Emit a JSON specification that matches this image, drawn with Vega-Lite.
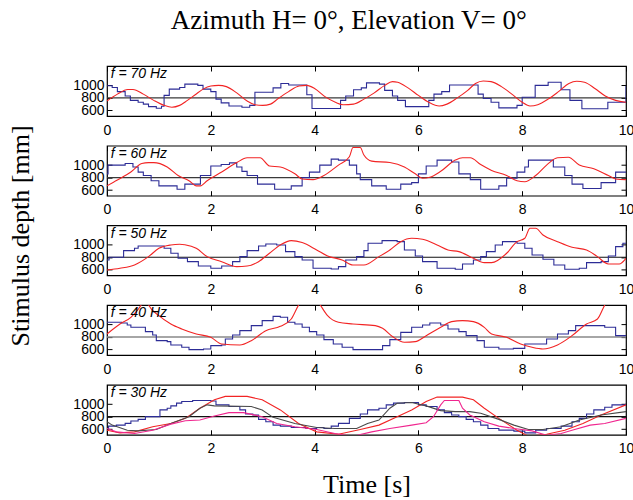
{
"$schema": "https://vega.github.io/schema/vega-lite/v6.json",
"padding": {"left": 7, "top": 6, "right": 0, "bottom": 4},
"title": {"text": "Azimuth H= 0°, Elevation V= 0°", "font": "Liberation Serif", "fontSize": 27, "fontWeight": "normal", "color": "#000", "anchor": "middle", "offset": 30, "dx": 28},
"datasets": {
"d": [
{"p":70,"s":"b","t":0,"v":995},{"p":70,"s":"b","t":0.1,"v":965},{"p":70,"s":"b","t":0.2,"v":900},{"p":70,"s":"b","t":0.35,"v":830},{"p":70,"s":"b","t":0.45,"v":760},{"p":70,"s":"b","t":0.6,"v":730},{"p":70,"s":"b","t":0.7,"v":700},{"p":70,"s":"b","t":0.8,"v":660},{"p":70,"s":"b","t":0.95,"v":635},{"p":70,"s":"b","t":1.05,"v":665},{"p":70,"s":"b","t":1.1,"v":840},{"p":70,"s":"b","t":1.2,"v":940},{"p":70,"s":"b","t":1.4,"v":965},{"p":70,"s":"b","t":1.5,"v":1020},{"p":70,"s":"b","t":1.75,"v":1000},{"p":70,"s":"b","t":1.85,"v":940},{"p":70,"s":"b","t":2.0,"v":900},{"p":70,"s":"b","t":2.1,"v":780},{"p":70,"s":"b","t":2.2,"v":720},{"p":70,"s":"b","t":2.35,"v":670},{"p":70,"s":"b","t":2.6,"v":650},{"p":70,"s":"b","t":2.75,"v":680},{"p":70,"s":"b","t":2.85,"v":890},{"p":70,"s":"b","t":3.1,"v":890},{"p":70,"s":"b","t":3.2,"v":960},{"p":70,"s":"b","t":3.35,"v":1030},{"p":70,"s":"b","t":3.5,"v":1005},{"p":70,"s":"b","t":3.75,"v":1005},{"p":70,"s":"b","t":3.85,"v":850},{"p":70,"s":"b","t":3.95,"v":630},{"p":70,"s":"b","t":4.4,"v":630},{"p":70,"s":"b","t":4.5,"v":760},{"p":70,"s":"b","t":4.6,"v":830},{"p":70,"s":"b","t":4.75,"v":930},{"p":70,"s":"b","t":4.9,"v":960},{"p":70,"s":"b","t":5.0,"v":1040},{"p":70,"s":"b","t":5.25,"v":1020},{"p":70,"s":"b","t":5.35,"v":920},{"p":70,"s":"b","t":5.5,"v":830},{"p":70,"s":"b","t":5.6,"v":760},{"p":70,"s":"b","t":5.75,"v":660},{"p":70,"s":"b","t":6.1,"v":660},{"p":70,"s":"b","t":6.2,"v":760},{"p":70,"s":"b","t":6.3,"v":860},{"p":70,"s":"b","t":6.45,"v":900},{"p":70,"s":"b","t":6.6,"v":1005},{"p":70,"s":"b","t":7.1,"v":1005},{"p":70,"s":"b","t":7.15,"v":860},{"p":70,"s":"b","t":7.25,"v":790},{"p":70,"s":"b","t":7.4,"v":730},{"p":70,"s":"b","t":7.55,"v":640},{"p":70,"s":"b","t":7.8,"v":640},{"p":70,"s":"b","t":7.9,"v":680},{"p":70,"s":"b","t":8.0,"v":810},{"p":70,"s":"b","t":8.25,"v":1000},{"p":70,"s":"b","t":8.5,"v":1050},{"p":70,"s":"b","t":8.75,"v":930},{"p":70,"s":"b","t":8.92,"v":760},{"p":70,"s":"b","t":9.15,"v":625},{"p":70,"s":"b","t":9.62,"v":625},{"p":70,"s":"b","t":9.65,"v":730},{"p":70,"s":"b","t":9.95,"v":730},{"p":70,"s":"b","t":10,"v":995},
{"p":70,"s":"r","t":0,"v":750},{"p":70,"s":"r","t":0.2,"v":860},{"p":70,"s":"r","t":0.4,"v":935},{"p":70,"s":"r","t":0.5,"v":935},{"p":70,"s":"r","t":0.7,"v":860},{"p":70,"s":"r","t":0.9,"v":760},{"p":70,"s":"r","t":1.1,"v":680},{"p":70,"s":"r","t":1.25,"v":650},{"p":70,"s":"r","t":1.4,"v":680},{"p":70,"s":"r","t":1.55,"v":760},{"p":70,"s":"r","t":1.7,"v":850},{"p":70,"s":"r","t":1.85,"v":940},{"p":70,"s":"r","t":2.0,"v":990},{"p":70,"s":"r","t":2.15,"v":1000},{"p":70,"s":"r","t":2.3,"v":980},{"p":70,"s":"r","t":2.5,"v":880},{"p":70,"s":"r","t":2.7,"v":750},{"p":70,"s":"r","t":2.85,"v":690},{"p":70,"s":"r","t":3.0,"v":680},{"p":70,"s":"r","t":3.15,"v":700},{"p":70,"s":"r","t":3.3,"v":790},{"p":70,"s":"r","t":3.5,"v":900},{"p":70,"s":"r","t":3.7,"v":990},{"p":70,"s":"r","t":3.85,"v":1000},{"p":70,"s":"r","t":4.0,"v":950},{"p":70,"s":"r","t":4.2,"v":820},{"p":70,"s":"r","t":4.4,"v":730},{"p":70,"s":"r","t":4.55,"v":690},{"p":70,"s":"r","t":4.75,"v":700},{"p":70,"s":"r","t":4.95,"v":780},{"p":70,"s":"r","t":5.15,"v":880},{"p":70,"s":"r","t":5.35,"v":1000},{"p":70,"s":"r","t":5.5,"v":1060},{"p":70,"s":"r","t":5.6,"v":1050},{"p":70,"s":"r","t":5.8,"v":960},{"p":70,"s":"r","t":6.0,"v":840},{"p":70,"s":"r","t":6.2,"v":730},{"p":70,"s":"r","t":6.4,"v":670},{"p":70,"s":"r","t":6.55,"v":700},{"p":70,"s":"r","t":6.75,"v":800},{"p":70,"s":"r","t":6.95,"v":920},{"p":70,"s":"r","t":7.1,"v":1030},{"p":70,"s":"r","t":7.25,"v":1070},{"p":70,"s":"r","t":7.4,"v":1060},{"p":70,"s":"r","t":7.6,"v":980},{"p":70,"s":"r","t":7.8,"v":860},{"p":70,"s":"r","t":8.0,"v":730},{"p":70,"s":"r","t":8.15,"v":670},{"p":70,"s":"r","t":8.3,"v":690},{"p":70,"s":"r","t":8.5,"v":780},{"p":70,"s":"r","t":8.7,"v":900},{"p":70,"s":"r","t":8.9,"v":1030},{"p":70,"s":"r","t":9.05,"v":1065},{"p":70,"s":"r","t":9.2,"v":1050},{"p":70,"s":"r","t":9.4,"v":950},{"p":70,"s":"r","t":9.6,"v":830},{"p":70,"s":"r","t":9.8,"v":760},{"p":70,"s":"r","t":10,"v":730},
{"p":60,"s":"b","t":0,"v":860},{"p":60,"s":"b","t":0.02,"v":1000},{"p":60,"s":"b","t":0.35,"v":1025},{"p":60,"s":"b","t":0.5,"v":970},{"p":60,"s":"b","t":0.6,"v":888},{"p":60,"s":"b","t":0.7,"v":833},{"p":60,"s":"b","t":0.85,"v":750},{"p":60,"s":"b","t":1.0,"v":668},{"p":60,"s":"b","t":1.35,"v":614},{"p":60,"s":"b","t":1.5,"v":696},{"p":60,"s":"b","t":1.8,"v":833},{"p":60,"s":"b","t":2.0,"v":986},{"p":60,"s":"b","t":2.2,"v":1010},{"p":60,"s":"b","t":2.36,"v":1036},{"p":60,"s":"b","t":2.5,"v":970},{"p":60,"s":"b","t":2.6,"v":900},{"p":60,"s":"b","t":2.7,"v":833},{"p":60,"s":"b","t":2.9,"v":696},{"p":60,"s":"b","t":3.23,"v":614},{"p":60,"s":"b","t":3.55,"v":668},{"p":60,"s":"b","t":3.76,"v":800},{"p":60,"s":"b","t":3.9,"v":888},{"p":60,"s":"b","t":4.1,"v":1000},{"p":60,"s":"b","t":4.32,"v":1096},{"p":60,"s":"b","t":4.46,"v":1080},{"p":60,"s":"b","t":4.67,"v":1000},{"p":60,"s":"b","t":4.81,"v":860},{"p":60,"s":"b","t":4.88,"v":767},{"p":60,"s":"b","t":5.1,"v":668},{"p":60,"s":"b","t":5.38,"v":614},{"p":60,"s":"b","t":5.66,"v":696},{"p":60,"s":"b","t":5.87,"v":720},{"p":60,"s":"b","t":6.0,"v":860},{"p":60,"s":"b","t":6.15,"v":986},{"p":60,"s":"b","t":6.36,"v":1080},{"p":60,"s":"b","t":6.64,"v":1050},{"p":60,"s":"b","t":6.78,"v":860},{"p":60,"s":"b","t":7.0,"v":767},{"p":60,"s":"b","t":7.2,"v":614},{"p":60,"s":"b","t":7.55,"v":668},{"p":60,"s":"b","t":7.7,"v":790},{"p":60,"s":"b","t":7.9,"v":888},{"p":60,"s":"b","t":8.05,"v":970},{"p":60,"s":"b","t":8.12,"v":1080},{"p":60,"s":"b","t":8.54,"v":1080},{"p":60,"s":"b","t":8.6,"v":970},{"p":60,"s":"b","t":8.82,"v":833},{"p":60,"s":"b","t":8.96,"v":696},{"p":60,"s":"b","t":9.17,"v":625},{"p":60,"s":"b","t":9.45,"v":625},{"p":60,"s":"b","t":9.52,"v":720},{"p":60,"s":"b","t":9.73,"v":720},{"p":60,"s":"b","t":9.8,"v":888},{"p":60,"s":"b","t":10,"v":888},
{"p":60,"s":"r","t":0,"v":668},{"p":60,"s":"r","t":0.2,"v":760},{"p":60,"s":"r","t":0.46,"v":888},{"p":60,"s":"r","t":0.67,"v":1025},{"p":60,"s":"r","t":0.8,"v":1040},{"p":60,"s":"r","t":0.9,"v":1040},{"p":60,"s":"r","t":1.16,"v":970},{"p":60,"s":"r","t":1.37,"v":833},{"p":60,"s":"r","t":1.58,"v":750},{"p":60,"s":"r","t":1.72,"v":668},{"p":60,"s":"r","t":1.8,"v":668},{"p":60,"s":"r","t":1.93,"v":750},{"p":60,"s":"r","t":2.21,"v":888},{"p":60,"s":"r","t":2.5,"v":1040},{"p":60,"s":"r","t":2.7,"v":1118},{"p":60,"s":"r","t":2.95,"v":1118},{"p":60,"s":"r","t":3.13,"v":986},{"p":60,"s":"r","t":3.34,"v":970},{"p":60,"s":"r","t":3.62,"v":860},{"p":60,"s":"r","t":3.76,"v":778},{"p":60,"s":"r","t":3.97,"v":767},{"p":60,"s":"r","t":4.18,"v":833},{"p":60,"s":"r","t":4.46,"v":1000},{"p":60,"s":"r","t":4.67,"v":1134},{"p":60,"s":"r","t":4.74,"v":1282},{"p":60,"s":"r","t":4.88,"v":1282},{"p":60,"s":"r","t":4.95,"v":1160},{"p":60,"s":"r","t":5.1,"v":1063},{"p":60,"s":"r","t":5.45,"v":1040},{"p":60,"s":"r","t":5.73,"v":970},{"p":60,"s":"r","t":5.94,"v":860},{"p":60,"s":"r","t":6.08,"v":790},{"p":60,"s":"r","t":6.22,"v":805},{"p":60,"s":"r","t":6.43,"v":900},{"p":60,"s":"r","t":6.71,"v":1080},{"p":60,"s":"r","t":6.85,"v":1118},{"p":60,"s":"r","t":7.0,"v":1118},{"p":60,"s":"r","t":7.2,"v":1008},{"p":60,"s":"r","t":7.41,"v":915},{"p":60,"s":"r","t":7.7,"v":833},{"p":60,"s":"r","t":7.9,"v":750},{"p":60,"s":"r","t":8.05,"v":734},{"p":60,"s":"r","t":8.26,"v":833},{"p":60,"s":"r","t":8.47,"v":1000},{"p":60,"s":"r","t":8.68,"v":1118},{"p":60,"s":"r","t":8.89,"v":1125},{"p":60,"s":"r","t":9.1,"v":1000},{"p":60,"s":"r","t":9.38,"v":942},{"p":60,"s":"r","t":9.66,"v":833},{"p":60,"s":"r","t":9.8,"v":778},{"p":60,"s":"r","t":10,"v":767},
{"p":50,"s":"b","t":0,"v":757},{"p":50,"s":"b","t":0.04,"v":800},{"p":50,"s":"b","t":0.32,"v":907},{"p":50,"s":"b","t":0.53,"v":945},{"p":50,"s":"b","t":0.6,"v":981},{"p":50,"s":"b","t":1.0,"v":981},{"p":50,"s":"b","t":1.1,"v":944},{"p":50,"s":"b","t":1.23,"v":864},{"p":50,"s":"b","t":1.37,"v":784},{"p":50,"s":"b","t":1.55,"v":730},{"p":50,"s":"b","t":1.76,"v":661},{"p":50,"s":"b","t":2.0,"v":624},{"p":50,"s":"b","t":2.21,"v":661},{"p":50,"s":"b","t":2.42,"v":730},{"p":50,"s":"b","t":2.56,"v":810},{"p":50,"s":"b","t":2.7,"v":907},{"p":50,"s":"b","t":2.92,"v":981},{"p":50,"s":"b","t":3.06,"v":1013},{"p":50,"s":"b","t":3.27,"v":997},{"p":50,"s":"b","t":3.44,"v":890},{"p":50,"s":"b","t":3.62,"v":810},{"p":50,"s":"b","t":3.76,"v":757},{"p":50,"s":"b","t":3.97,"v":624},{"p":50,"s":"b","t":4.32,"v":613},{"p":50,"s":"b","t":4.46,"v":650},{"p":50,"s":"b","t":4.6,"v":757},{"p":50,"s":"b","t":4.81,"v":810},{"p":50,"s":"b","t":4.95,"v":907},{"p":50,"s":"b","t":5.03,"v":1024},{"p":50,"s":"b","t":5.3,"v":1067},{"p":50,"s":"b","t":5.59,"v":1050},{"p":50,"s":"b","t":5.73,"v":917},{"p":50,"s":"b","t":5.94,"v":820},{"p":50,"s":"b","t":6.08,"v":730},{"p":50,"s":"b","t":6.36,"v":624},{"p":50,"s":"b","t":6.71,"v":608},{"p":50,"s":"b","t":6.85,"v":693},{"p":50,"s":"b","t":7.06,"v":757},{"p":50,"s":"b","t":7.2,"v":810},{"p":50,"s":"b","t":7.31,"v":890},{"p":50,"s":"b","t":7.48,"v":997},{"p":50,"s":"b","t":7.62,"v":1050},{"p":50,"s":"b","t":7.9,"v":1024},{"p":50,"s":"b","t":8.05,"v":944},{"p":50,"s":"b","t":8.19,"v":837},{"p":50,"s":"b","t":8.4,"v":768},{"p":50,"s":"b","t":8.61,"v":677},{"p":50,"s":"b","t":8.82,"v":608},{"p":50,"s":"b","t":9.1,"v":624},{"p":50,"s":"b","t":9.24,"v":714},{"p":50,"s":"b","t":9.52,"v":730},{"p":50,"s":"b","t":9.66,"v":821},{"p":50,"s":"b","t":9.8,"v":970},{"p":50,"s":"b","t":9.94,"v":1024},{"p":50,"s":"b","t":10,"v":1024},
{"p":50,"s":"r","t":0,"v":597},{"p":50,"s":"r","t":0.25,"v":624},{"p":50,"s":"r","t":0.53,"v":677},{"p":50,"s":"r","t":0.8,"v":810},{"p":50,"s":"r","t":1.0,"v":944},{"p":50,"s":"r","t":1.23,"v":997},{"p":50,"s":"r","t":1.4,"v":1008},{"p":50,"s":"r","t":1.5,"v":1000},{"p":50,"s":"r","t":1.72,"v":944},{"p":50,"s":"r","t":1.93,"v":810},{"p":50,"s":"r","t":2.21,"v":730},{"p":50,"s":"r","t":2.5,"v":650},{"p":50,"s":"r","t":2.7,"v":660},{"p":50,"s":"r","t":2.92,"v":730},{"p":50,"s":"r","t":3.13,"v":864},{"p":50,"s":"r","t":3.34,"v":997},{"p":50,"s":"r","t":3.55,"v":1067},{"p":50,"s":"r","t":3.76,"v":1035},{"p":50,"s":"r","t":4.04,"v":917},{"p":50,"s":"r","t":4.25,"v":821},{"p":50,"s":"r","t":4.53,"v":757},{"p":50,"s":"r","t":4.74,"v":677},{"p":50,"s":"r","t":4.95,"v":677},{"p":50,"s":"r","t":5.24,"v":810},{"p":50,"s":"r","t":5.45,"v":917},{"p":50,"s":"r","t":5.66,"v":1050},{"p":50,"s":"r","t":5.87,"v":1104},{"p":50,"s":"r","t":6.08,"v":1088},{"p":50,"s":"r","t":6.36,"v":997},{"p":50,"s":"r","t":6.57,"v":917},{"p":50,"s":"r","t":6.78,"v":890},{"p":50,"s":"r","t":7.06,"v":784},{"p":50,"s":"r","t":7.27,"v":714},{"p":50,"s":"r","t":7.41,"v":714},{"p":50,"s":"r","t":7.7,"v":864},{"p":50,"s":"r","t":7.9,"v":1050},{"p":50,"s":"r","t":8.05,"v":1104},{"p":50,"s":"r","t":8.15,"v":1264},{"p":50,"s":"r","t":8.26,"v":1264},{"p":50,"s":"r","t":8.4,"v":1157},{"p":50,"s":"r","t":8.68,"v":1050},{"p":50,"s":"r","t":8.96,"v":960},{"p":50,"s":"r","t":9.24,"v":917},{"p":50,"s":"r","t":9.45,"v":810},{"p":50,"s":"r","t":9.66,"v":693},{"p":50,"s":"r","t":9.87,"v":693},{"p":50,"s":"r","t":10,"v":784},
{"p":40,"s":"b","t":0,"v":1035},{"p":40,"s":"b","t":0.28,"v":1024},{"p":40,"s":"b","t":0.39,"v":992},{"p":40,"s":"b","t":0.46,"v":955},{"p":40,"s":"b","t":0.74,"v":885},{"p":40,"s":"b","t":0.88,"v":832},{"p":40,"s":"b","t":0.95,"v":741},{"p":40,"s":"b","t":1.16,"v":725},{"p":40,"s":"b","t":1.23,"v":672},{"p":40,"s":"b","t":1.44,"v":635},{"p":40,"s":"b","t":1.58,"v":597},{"p":40,"s":"b","t":1.86,"v":608},{"p":40,"s":"b","t":2.0,"v":661},{"p":40,"s":"b","t":2.21,"v":672},{"p":40,"s":"b","t":2.28,"v":768},{"p":40,"s":"b","t":2.42,"v":832},{"p":40,"s":"b","t":2.56,"v":901},{"p":40,"s":"b","t":2.78,"v":981},{"p":40,"s":"b","t":2.99,"v":1061},{"p":40,"s":"b","t":3.2,"v":1130},{"p":40,"s":"b","t":3.34,"v":1115},{"p":40,"s":"b","t":3.48,"v":1035},{"p":40,"s":"b","t":3.62,"v":1008},{"p":40,"s":"b","t":3.76,"v":955},{"p":40,"s":"b","t":3.9,"v":885},{"p":40,"s":"b","t":4.04,"v":832},{"p":40,"s":"b","t":4.18,"v":757},{"p":40,"s":"b","t":4.36,"v":688},{"p":40,"s":"b","t":4.53,"v":635},{"p":40,"s":"b","t":4.74,"v":597},{"p":40,"s":"b","t":5.17,"v":597},{"p":40,"s":"b","t":5.31,"v":661},{"p":40,"s":"b","t":5.45,"v":757},{"p":40,"s":"b","t":5.66,"v":874},{"p":40,"s":"b","t":5.87,"v":955},{"p":40,"s":"b","t":6.08,"v":992},{"p":40,"s":"b","t":6.22,"v":1024},{"p":40,"s":"b","t":6.43,"v":992},{"p":40,"s":"b","t":6.57,"v":928},{"p":40,"s":"b","t":6.78,"v":885},{"p":40,"s":"b","t":6.92,"v":821},{"p":40,"s":"b","t":7.13,"v":741},{"p":40,"s":"b","t":7.27,"v":635},{"p":40,"s":"b","t":7.55,"v":608},{"p":40,"s":"b","t":7.83,"v":618},{"p":40,"s":"b","t":8.05,"v":688},{"p":40,"s":"b","t":8.47,"v":768},{"p":40,"s":"b","t":8.68,"v":848},{"p":40,"s":"b","t":8.89,"v":901},{"p":40,"s":"b","t":9.03,"v":981},{"p":40,"s":"b","t":9.38,"v":981},{"p":40,"s":"b","t":9.59,"v":955},{"p":40,"s":"b","t":9.8,"v":821},{"p":40,"s":"b","t":10,"v":821},
{"p":40,"s":"r","t":0,"v":848},{"p":40,"s":"r","t":0.25,"v":1008},{"p":40,"s":"r","t":0.46,"v":1115},{"p":40,"s":"r","t":0.67,"v":1328},{"p":40,"s":"r","t":0.74,"v":1450},{"p":40,"s":"r","t":0.8,"v":1315},{"p":40,"s":"r","t":1.0,"v":1141},{"p":40,"s":"r","t":1.23,"v":1008},{"p":40,"s":"r","t":1.44,"v":928},{"p":40,"s":"r","t":1.72,"v":848},{"p":40,"s":"r","t":2.0,"v":795},{"p":40,"s":"r","t":2.21,"v":688},{"p":40,"s":"r","t":2.56,"v":672},{"p":40,"s":"r","t":2.78,"v":741},{"p":40,"s":"r","t":3.06,"v":901},{"p":40,"s":"r","t":3.34,"v":970},{"p":40,"s":"r","t":3.55,"v":1088},{"p":40,"s":"r","t":3.69,"v":1310},{"p":40,"s":"r","t":3.9,"v":1550},{"p":40,"s":"r","t":4.11,"v":1310},{"p":40,"s":"r","t":4.25,"v":1141},{"p":40,"s":"r","t":4.46,"v":1035},{"p":40,"s":"r","t":4.74,"v":1008},{"p":40,"s":"r","t":5.17,"v":981},{"p":40,"s":"r","t":5.31,"v":938},{"p":40,"s":"r","t":5.52,"v":795},{"p":40,"s":"r","t":5.73,"v":715},{"p":40,"s":"r","t":5.94,"v":725},{"p":40,"s":"r","t":6.15,"v":821},{"p":40,"s":"r","t":6.43,"v":954},{"p":40,"s":"r","t":6.64,"v":1045},{"p":40,"s":"r","t":6.85,"v":1061},{"p":40,"s":"r","t":7.06,"v":1045},{"p":40,"s":"r","t":7.27,"v":954},{"p":40,"s":"r","t":7.41,"v":848},{"p":40,"s":"r","t":7.7,"v":795},{"p":40,"s":"r","t":7.97,"v":688},{"p":40,"s":"r","t":8.19,"v":635},{"p":40,"s":"r","t":8.4,"v":608},{"p":40,"s":"r","t":8.68,"v":672},{"p":40,"s":"r","t":8.96,"v":821},{"p":40,"s":"r","t":9.24,"v":1008},{"p":40,"s":"r","t":9.45,"v":1088},{"p":40,"s":"r","t":9.59,"v":1310},{"p":40,"s":"r","t":9.75,"v":1500},{"p":40,"s":"r","t":10,"v":1600},
{"p":30,"s":"b","t":0,"v":611},{"p":30,"s":"b","t":0.03,"v":649},{"p":30,"s":"b","t":0.18,"v":665},{"p":30,"s":"b","t":0.35,"v":692},{"p":30,"s":"b","t":0.46,"v":730},{"p":30,"s":"b","t":0.6,"v":757},{"p":30,"s":"b","t":0.74,"v":800},{"p":30,"s":"b","t":1.02,"v":908},{"p":30,"s":"b","t":1.16,"v":935},{"p":30,"s":"b","t":1.23,"v":973},{"p":30,"s":"b","t":1.34,"v":1016},{"p":30,"s":"b","t":1.44,"v":1043},{"p":30,"s":"b","t":1.65,"v":1059},{"p":30,"s":"b","t":2.0,"v":1050},{"p":30,"s":"b","t":2.1,"v":989},{"p":30,"s":"b","t":2.35,"v":962},{"p":30,"s":"b","t":2.56,"v":908},{"p":30,"s":"b","t":2.67,"v":843},{"p":30,"s":"b","t":2.81,"v":827},{"p":30,"s":"b","t":2.92,"v":757},{"p":30,"s":"b","t":3.06,"v":719},{"p":30,"s":"b","t":3.2,"v":665},{"p":30,"s":"b","t":3.34,"v":649},{"p":30,"s":"b","t":3.55,"v":627},{"p":30,"s":"b","t":3.83,"v":611},{"p":30,"s":"b","t":4.04,"v":627},{"p":30,"s":"b","t":4.18,"v":611},{"p":30,"s":"b","t":4.32,"v":649},{"p":30,"s":"b","t":4.46,"v":692},{"p":30,"s":"b","t":4.67,"v":773},{"p":30,"s":"b","t":4.88,"v":843},{"p":30,"s":"b","t":5.02,"v":908},{"p":30,"s":"b","t":5.24,"v":935},{"p":30,"s":"b","t":5.38,"v":989},{"p":30,"s":"b","t":5.52,"v":1016},{"p":30,"s":"b","t":5.73,"v":1027},{"p":30,"s":"b","t":6.0,"v":989},{"p":30,"s":"b","t":6.15,"v":962},{"p":30,"s":"b","t":6.36,"v":908},{"p":30,"s":"b","t":6.5,"v":865},{"p":30,"s":"b","t":6.64,"v":827},{"p":30,"s":"b","t":6.78,"v":800},{"p":30,"s":"b","t":6.92,"v":757},{"p":30,"s":"b","t":7.06,"v":719},{"p":30,"s":"b","t":7.2,"v":665},{"p":30,"s":"b","t":7.34,"v":611},{"p":30,"s":"b","t":7.55,"v":584},{"p":30,"s":"b","t":7.84,"v":568},{"p":30,"s":"b","t":8.05,"v":541},{"p":30,"s":"b","t":8.26,"v":584},{"p":30,"s":"b","t":8.47,"v":611},{"p":30,"s":"b","t":8.75,"v":649},{"p":30,"s":"b","t":8.96,"v":719},{"p":30,"s":"b","t":9.1,"v":773},{"p":30,"s":"b","t":9.24,"v":843},{"p":30,"s":"b","t":9.38,"v":908},{"p":30,"s":"b","t":9.59,"v":951},{"p":30,"s":"b","t":9.73,"v":989},{"p":30,"s":"b","t":10,"v":1005},
{"p":30,"s":"r","t":0,"v":584},{"p":30,"s":"r","t":0.25,"v":541},{"p":30,"s":"r","t":0.53,"v":557},{"p":30,"s":"r","t":0.88,"v":638},{"p":30,"s":"r","t":1.23,"v":692},{"p":30,"s":"r","t":1.51,"v":773},{"p":30,"s":"r","t":1.79,"v":935},{"p":30,"s":"r","t":2.07,"v":1070},{"p":30,"s":"r","t":2.28,"v":1124},{"p":30,"s":"r","t":2.7,"v":1124},{"p":30,"s":"r","t":2.99,"v":1070},{"p":30,"s":"r","t":3.34,"v":908},{"p":30,"s":"r","t":3.69,"v":692},{"p":30,"s":"r","t":4.04,"v":557},{"p":30,"s":"r","t":4.46,"v":519},{"p":30,"s":"r","t":4.88,"v":595},{"p":30,"s":"r","t":5.24,"v":665},{"p":30,"s":"r","t":5.59,"v":800},{"p":30,"s":"r","t":5.87,"v":908},{"p":30,"s":"r","t":6.15,"v":1043},{"p":30,"s":"r","t":6.36,"v":1113},{"p":30,"s":"r","t":6.85,"v":1113},{"p":30,"s":"r","t":7.06,"v":1070},{"p":30,"s":"r","t":7.27,"v":935},{"p":30,"s":"r","t":7.55,"v":773},{"p":30,"s":"r","t":7.9,"v":584},{"p":30,"s":"r","t":8.12,"v":487},{"p":30,"s":"r","t":8.47,"v":519},{"p":30,"s":"r","t":8.82,"v":584},{"p":30,"s":"r","t":9.17,"v":692},{"p":30,"s":"r","t":9.52,"v":827},{"p":30,"s":"r","t":10,"v":989},
{"p":30,"s":"k","t":0,"v":719},{"p":30,"s":"k","t":0.1,"v":665},{"p":30,"s":"k","t":0.39,"v":584},{"p":30,"s":"k","t":0.6,"v":573},{"p":30,"s":"k","t":0.95,"v":595},{"p":30,"s":"k","t":1.23,"v":692},{"p":30,"s":"k","t":1.58,"v":800},{"p":30,"s":"k","t":1.79,"v":935},{"p":30,"s":"k","t":1.93,"v":989},{"p":30,"s":"k","t":2.07,"v":973},{"p":30,"s":"k","t":2.78,"v":962},{"p":30,"s":"k","t":2.99,"v":908},{"p":30,"s":"k","t":3.2,"v":789},{"p":30,"s":"k","t":3.62,"v":692},{"p":30,"s":"k","t":4.04,"v":627},{"p":30,"s":"k","t":4.39,"v":611},{"p":30,"s":"k","t":4.81,"v":611},{"p":30,"s":"k","t":5.02,"v":692},{"p":30,"s":"k","t":5.24,"v":746},{"p":30,"s":"k","t":5.45,"v":935},{"p":30,"s":"k","t":5.59,"v":1016},{"p":30,"s":"k","t":5.87,"v":1027},{"p":30,"s":"k","t":6.15,"v":973},{"p":30,"s":"k","t":6.43,"v":897},{"p":30,"s":"k","t":6.71,"v":881},{"p":30,"s":"k","t":6.99,"v":881},{"p":30,"s":"k","t":7.2,"v":854},{"p":30,"s":"k","t":7.55,"v":757},{"p":30,"s":"k","t":7.84,"v":665},{"p":30,"s":"k","t":8.12,"v":595},{"p":30,"s":"k","t":8.4,"v":595},{"p":30,"s":"k","t":8.75,"v":638},{"p":30,"s":"k","t":9.1,"v":746},{"p":30,"s":"k","t":9.52,"v":827},{"p":30,"s":"k","t":10,"v":881},
{"p":30,"s":"m","t":0,"v":611},{"p":30,"s":"m","t":0.18,"v":557},{"p":30,"s":"m","t":0.53,"v":530},{"p":30,"s":"m","t":0.88,"v":584},{"p":30,"s":"m","t":1.23,"v":681},{"p":30,"s":"m","t":1.51,"v":735},{"p":30,"s":"m","t":1.79,"v":746},{"p":30,"s":"m","t":2.07,"v":811},{"p":30,"s":"m","t":2.35,"v":865},{"p":30,"s":"m","t":2.63,"v":865},{"p":30,"s":"m","t":2.99,"v":800},{"p":30,"s":"m","t":3.27,"v":692},{"p":30,"s":"m","t":3.62,"v":638},{"p":30,"s":"m","t":4.04,"v":595},{"p":30,"s":"m","t":4.39,"v":530},{"p":30,"s":"m","t":4.74,"v":487},{"p":30,"s":"m","t":5.1,"v":557},{"p":30,"s":"m","t":5.45,"v":611},{"p":30,"s":"m","t":5.87,"v":665},{"p":30,"s":"m","t":6.15,"v":703},{"p":30,"s":"m","t":6.29,"v":800},{"p":30,"s":"m","t":6.43,"v":989},{"p":30,"s":"m","t":6.5,"v":1059},{"p":30,"s":"m","t":6.78,"v":1059},{"p":30,"s":"m","t":6.85,"v":935},{"p":30,"s":"m","t":6.99,"v":827},{"p":30,"s":"m","t":7.27,"v":719},{"p":30,"s":"m","t":7.55,"v":649},{"p":30,"s":"m","t":7.84,"v":611},{"p":30,"s":"m","t":8.19,"v":573},{"p":30,"s":"m","t":8.47,"v":503},{"p":30,"s":"m","t":8.75,"v":530},{"p":30,"s":"m","t":8.96,"v":584},{"p":30,"s":"m","t":9.31,"v":665},{"p":30,"s":"m","t":9.59,"v":692},{"p":30,"s":"m","t":10,"v":773}
]},
"spacing": 29.7,
"bounds": "flush",
"vconcat": [
{"width": 519, "height": 50, "data": {"name": "d"}, "transform": [{"filter": "datum.p == 70"}],
 "layer": [
  {"data": {"values": [{"ref": 800}]}, "mark": {"type": "rule", "color": "#3a3a3a", "strokeWidth": 1.2}, "encoding": {"y": {"field": "ref", "type": "quantitative", "axis": null}}},
  {"transform": [{"filter": "datum.s == 'b'"}], "mark": {"type": "line", "interpolate": "step-after", "clip": true, "color": "#2c2c96", "strokeWidth": 1.1},
   "encoding": {"x": {"field": "t", "type": "quantitative", "scale": {"domain": [0, 10], "nice": false}, "axis": {"orient": "bottom", "values": [0,2,4,6,8,10], "title": null}},
                "y": {"field": "v", "type": "quantitative", "scale": {"domain": [510, 1310], "nice": false, "zero": false}, "axis": {"orient": "left", "values": [600,800,1000], "title": null}}}},
  {"transform": [{"filter": "datum.s != 'b'"}], "mark": {"type": "line", "interpolate": "monotone", "clip": true, "strokeWidth": 1.1},
   "encoding": {"x": {"field": "t", "type": "quantitative", "axis": null}, "y": {"field": "v", "type": "quantitative", "axis": null},
                "color": {"field": "s", "type": "nominal", "scale": {"domain": ["r","k","m"], "range": ["#f22424","#4a4a4a","#f0268f"]}, "legend": null}}},
  {"data": {"values": [{"lab": "f = 70 Hz"}]}, "mark": {"type": "text", "align": "left", "baseline": "middle", "font": "Liberation Sans", "fontStyle": "italic", "fontSize": 14, "color": "#000"},
   "encoding": {"text": {"field": "lab"}, "x": {"datum": 0.07, "type": "quantitative", "axis": null}, "y": {"datum": 1180, "type": "quantitative", "axis": null}}},
  {"transform": [{"filter": "datum.s == 'b'"}], "mark": {"type": "point", "opacity": 0},
   "encoding": {"x": {"field": "t", "type": "quantitative", "axis": {"orient": "top", "labels": false, "values": [0,2,4,6,8,10], "title": null}},
                "y": {"field": "v", "type": "quantitative", "axis": {"orient": "right", "labels": false, "values": [600,800,1000], "title": null}}}}
 ],
 "resolve": {"axis": {"x": "independent", "y": "independent"}}},
{"width": 519, "height": 50, "data": {"name": "d"}, "transform": [{"filter": "datum.p == 60"}],
 "layer": [
  {"data": {"values": [{"ref": 800}]}, "mark": {"type": "rule", "color": "#3a3a3a", "strokeWidth": 1.2}, "encoding": {"y": {"field": "ref", "type": "quantitative", "axis": null}}},
  {"transform": [{"filter": "datum.s == 'b'"}], "mark": {"type": "line", "interpolate": "step-after", "clip": true, "color": "#2c2c96", "strokeWidth": 1.1},
   "encoding": {"x": {"field": "t", "type": "quantitative", "scale": {"domain": [0, 10], "nice": false}, "axis": {"orient": "bottom", "values": [0,2,4,6,8,10], "title": null}},
                "y": {"field": "v", "type": "quantitative", "scale": {"domain": [510, 1310], "nice": false, "zero": false}, "axis": {"orient": "left", "values": [600,800,1000], "title": null}}}},
  {"transform": [{"filter": "datum.s != 'b'"}], "mark": {"type": "line", "interpolate": "monotone", "clip": true, "strokeWidth": 1.1},
   "encoding": {"x": {"field": "t", "type": "quantitative", "axis": null}, "y": {"field": "v", "type": "quantitative", "axis": null},
                "color": {"field": "s", "type": "nominal", "scale": {"domain": ["r","k","m"], "range": ["#f22424","#4a4a4a","#f0268f"]}, "legend": null}}},
  {"data": {"values": [{"lab": "f = 60 Hz"}]}, "mark": {"type": "text", "align": "left", "baseline": "middle", "font": "Liberation Sans", "fontStyle": "italic", "fontSize": 14, "color": "#000"},
   "encoding": {"text": {"field": "lab"}, "x": {"datum": 0.07, "type": "quantitative", "axis": null}, "y": {"datum": 1180, "type": "quantitative", "axis": null}}},
  {"transform": [{"filter": "datum.s == 'b'"}], "mark": {"type": "point", "opacity": 0},
   "encoding": {"x": {"field": "t", "type": "quantitative", "axis": {"orient": "top", "labels": false, "values": [0,2,4,6,8,10], "title": null}},
                "y": {"field": "v", "type": "quantitative", "axis": {"orient": "right", "labels": false, "values": [600,800,1000], "title": null}}}}
 ],
 "resolve": {"axis": {"x": "independent", "y": "independent"}}},
{"width": 519, "height": 50, "data": {"name": "d"}, "transform": [{"filter": "datum.p == 50"}],
 "layer": [
  {"data": {"values": [{"ref": 800}]}, "mark": {"type": "rule", "color": "#111", "strokeWidth": 1.2}, "encoding": {"y": {"field": "ref", "type": "quantitative", "axis": null}}},
  {"transform": [{"filter": "datum.s == 'b'"}], "mark": {"type": "line", "interpolate": "step-after", "clip": true, "color": "#2c2c96", "strokeWidth": 1.1},
   "encoding": {"x": {"field": "t", "type": "quantitative", "scale": {"domain": [0, 10], "nice": false}, "axis": {"orient": "bottom", "values": [0,2,4,6,8,10], "title": null}},
                "y": {"field": "v", "type": "quantitative", "scale": {"domain": [510, 1310], "nice": false, "zero": false}, "axis": {"orient": "left", "values": [600,800,1000], "title": "Stimulus depth [mm]", "titlePadding": 39, "titleY": 10}}}},
  {"transform": [{"filter": "datum.s != 'b'"}], "mark": {"type": "line", "interpolate": "monotone", "clip": true, "strokeWidth": 1.1},
   "encoding": {"x": {"field": "t", "type": "quantitative", "axis": null}, "y": {"field": "v", "type": "quantitative", "axis": null},
                "color": {"field": "s", "type": "nominal", "scale": {"domain": ["r","k","m"], "range": ["#f22424","#4a4a4a","#f0268f"]}, "legend": null}}},
  {"data": {"values": [{"lab": "f = 50 Hz"}]}, "mark": {"type": "text", "align": "left", "baseline": "middle", "font": "Liberation Sans", "fontStyle": "italic", "fontSize": 14, "color": "#000"},
   "encoding": {"text": {"field": "lab"}, "x": {"datum": 0.07, "type": "quantitative", "axis": null}, "y": {"datum": 1180, "type": "quantitative", "axis": null}}},
  {"transform": [{"filter": "datum.s == 'b'"}], "mark": {"type": "point", "opacity": 0},
   "encoding": {"x": {"field": "t", "type": "quantitative", "axis": {"orient": "top", "labels": false, "values": [0,2,4,6,8,10], "title": null}},
                "y": {"field": "v", "type": "quantitative", "axis": {"orient": "right", "labels": false, "values": [600,800,1000], "title": null}}}}
 ],
 "resolve": {"axis": {"x": "independent", "y": "independent"}}},
{"width": 519, "height": 50, "data": {"name": "d"}, "transform": [{"filter": "datum.p == 40"}],
 "layer": [
  {"data": {"values": [{"ref": 800}]}, "mark": {"type": "rule", "color": "#888", "strokeWidth": 1.5}, "encoding": {"y": {"field": "ref", "type": "quantitative", "axis": null}}},
  {"transform": [{"filter": "datum.s == 'b'"}], "mark": {"type": "line", "interpolate": "step-after", "clip": true, "color": "#2c2c96", "strokeWidth": 1.1},
   "encoding": {"x": {"field": "t", "type": "quantitative", "scale": {"domain": [0, 10], "nice": false}, "axis": {"orient": "bottom", "values": [0,2,4,6,8,10], "title": null}},
                "y": {"field": "v", "type": "quantitative", "scale": {"domain": [510, 1310], "nice": false, "zero": false}, "axis": {"orient": "left", "values": [600,800,1000], "title": null}}}},
  {"transform": [{"filter": "datum.s != 'b'"}], "mark": {"type": "line", "interpolate": "monotone", "clip": true, "strokeWidth": 1.1},
   "encoding": {"x": {"field": "t", "type": "quantitative", "axis": null}, "y": {"field": "v", "type": "quantitative", "axis": null},
                "color": {"field": "s", "type": "nominal", "scale": {"domain": ["r","k","m"], "range": ["#f22424","#4a4a4a","#f0268f"]}, "legend": null}}},
  {"data": {"values": [{"lab": "f = 40 Hz"}]}, "mark": {"type": "text", "align": "left", "baseline": "middle", "font": "Liberation Sans", "fontStyle": "italic", "fontSize": 14, "color": "#000"},
   "encoding": {"text": {"field": "lab"}, "x": {"datum": 0.07, "type": "quantitative", "axis": null}, "y": {"datum": 1180, "type": "quantitative", "axis": null}}},
  {"transform": [{"filter": "datum.s == 'b'"}], "mark": {"type": "point", "opacity": 0},
   "encoding": {"x": {"field": "t", "type": "quantitative", "axis": {"orient": "top", "labels": false, "values": [0,2,4,6,8,10], "title": null}},
                "y": {"field": "v", "type": "quantitative", "axis": {"orient": "right", "labels": false, "values": [600,800,1000], "title": null}}}}
 ],
 "resolve": {"axis": {"x": "independent", "y": "independent"}}},
{"width": 519, "height": 50, "data": {"name": "d"}, "transform": [{"filter": "datum.p == 30"}],
 "layer": [
  {"data": {"values": [{"ref": 800}]}, "mark": {"type": "rule", "color": "#111", "strokeWidth": 1.2}, "encoding": {"y": {"field": "ref", "type": "quantitative", "axis": null}}},
  {"transform": [{"filter": "datum.s == 'b'"}], "mark": {"type": "line", "interpolate": "step-after", "clip": true, "color": "#2c2c96", "strokeWidth": 1.1},
   "encoding": {"x": {"field": "t", "type": "quantitative", "scale": {"domain": [0, 10], "nice": false}, "axis": {"orient": "bottom", "values": [0,2,4,6,8,10], "title": "Time [s]", "titlePadding": 16}},
                "y": {"field": "v", "type": "quantitative", "scale": {"domain": [510, 1310], "nice": false, "zero": false}, "axis": {"orient": "left", "values": [600,800,1000], "title": null}}}},
  {"transform": [{"filter": "datum.s != 'b'"}], "mark": {"type": "line", "interpolate": "linear", "clip": true, "strokeWidth": 1.1},
   "encoding": {"x": {"field": "t", "type": "quantitative", "axis": null}, "y": {"field": "v", "type": "quantitative", "axis": null},
                "color": {"field": "s", "type": "nominal", "scale": {"domain": ["r","k","m"], "range": ["#f22424","#4a4a4a","#f0268f"]}, "legend": null}}},
  {"data": {"values": [{"lab": "f = 30 Hz"}]}, "mark": {"type": "text", "align": "left", "baseline": "middle", "font": "Liberation Sans", "fontStyle": "italic", "fontSize": 14, "color": "#000"},
   "encoding": {"text": {"field": "lab"}, "x": {"datum": 0.07, "type": "quantitative", "axis": null}, "y": {"datum": 1180, "type": "quantitative", "axis": null}}},
  {"transform": [{"filter": "datum.s == 'b'"}], "mark": {"type": "point", "opacity": 0},
   "encoding": {"x": {"field": "t", "type": "quantitative", "axis": {"orient": "top", "labels": false, "values": [0,2,4,6,8,10], "title": null}},
                "y": {"field": "v", "type": "quantitative", "axis": {"orient": "right", "labels": false, "values": [600,800,1000], "title": null}}}}
 ],
 "resolve": {"axis": {"x": "independent", "y": "independent"}}}
],
"config": {
  "view": {"stroke": "#000", "strokeWidth": 1.2},
  "axis": {"grid": false, "domain": false, "ticks": true, "tickSize": -5, "tickColor": "#000", "tickWidth": 1, "format": "d",
           "labelFont": "Liberation Sans", "labelFontSize": 14, "labelColor": "#000", "labelFlush": false, "labelOverlap": false, "labelPadding": 8,
           "titleFont": "Liberation Serif", "titleFontSize": 26, "titleFontWeight": "normal", "titleColor": "#000"},
  "axisX": {"labelPadding": 12}
}
}
